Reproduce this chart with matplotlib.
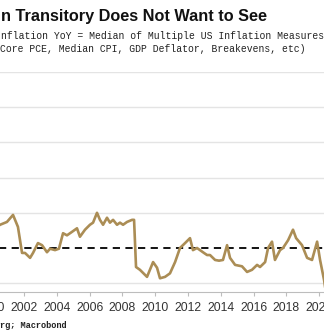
import numpy as np
import matplotlib
matplotlib.use('Agg')
import matplotlib.pyplot as plt

# Median of US inflation measures, YoY %
years = [2000.35, 2000.54, 2000.96, 2001.33, 2001.63, 2001.88, 2002.06, 2002.37, 2002.55,
         2002.85, 2003.10, 2003.40, 2003.59, 2003.89, 2004.13, 2004.38, 2004.62, 2004.93,
         2005.23, 2005.41, 2005.72, 2006.02, 2006.21, 2006.45, 2006.63, 2006.82, 2007.06,
         2007.24, 2007.43, 2007.67, 2007.85, 2008.04, 2008.28, 2008.59, 2008.71, 2008.83,
         2009.07, 2009.50, 2009.87, 2010.11, 2010.29, 2010.60, 2010.90, 2011.21, 2011.51,
         2011.82, 2012.12, 2012.30, 2012.55, 2012.73, 2012.91, 2013.16, 2013.34, 2013.65,
         2013.89, 2014.13, 2014.38, 2014.56, 2014.87, 2015.29, 2015.60, 2015.90, 2016.21,
         2016.39, 2016.70, 2016.88, 2017.12, 2017.30, 2017.61, 2017.79, 2018.10, 2018.40,
         2018.59, 2018.95, 2019.26, 2019.56, 2019.87, 2020.05, 2020.29, 2020.45]
values = [2.30, 2.33, 2.37, 2.47, 2.30, 1.93, 1.93, 1.86, 1.93,
          2.07, 2.04, 1.94, 1.99, 1.97, 1.99, 2.21, 2.18, 2.23,
          2.28, 2.16, 2.26, 2.33, 2.36, 2.50, 2.40, 2.33, 2.43,
          2.36, 2.40, 2.33, 2.36, 2.33, 2.37, 2.40, 2.40, 1.73,
          1.69, 1.59, 1.80, 1.72, 1.57, 1.59, 1.64, 1.80, 2.00,
          2.07, 2.14, 1.97, 2.00, 1.97, 1.94, 1.90, 1.90, 1.83,
          1.82, 1.83, 2.04, 1.86, 1.76, 1.74, 1.66, 1.69, 1.76,
          1.73, 1.80, 2.00, 2.09, 1.83, 1.97, 2.00, 2.11, 2.26,
          2.14, 2.04, 1.86, 1.83, 2.09, 1.83, 1.55, 1.30]
target = 2.0
xticks = list(range(2000, 2022, 2))
grid_levels = [1.5, 2.5, 3.0, 3.5, 4.0, 4.5]

W, H = 324, 336
fig = plt.figure(figsize=(W / 100, H / 100), dpi=100)

# axes deliberately run past the left/right edges (reference is a crop)
x_lo, x_hi = 1998.0, 2020.29
left_px = 24 + (x_lo - 2002) * 16.4
top_px, bot_px = 72, 292
ax = fig.add_axes([left_px / W, 1 - bot_px / H, (W - left_px) / W, (bot_px - top_px) / H])
ax.set_xlim(x_lo, x_hi)
ax.set_ylim(1.375, 4.5)

for g in grid_levels:
    ax.axhline(g, color='#e4e4e4', lw=1.0, zorder=0)
ax.axhline(target, color='black', lw=1.3, ls=(0, (4, 3)), zorder=1)
ax.plot(years, values, color='#ab8d55', lw=1.9, zorder=2, clip_on=True)

for s in ['top', 'left', 'right']:
    ax.spines[s].set_visible(False)
ax.spines['bottom'].set_color('#bdbdbd')
ax.set_yticks([])
ax.set_xticks(xticks)
ax.set_xticklabels([str(y) for y in xticks], fontsize=8.7, color='#333333',
                   family='Liberation Sans')
ax.tick_params(axis='x', length=3, color='#bdbdbd', pad=4)

fig.text(1 / W, 1 - 17 / H, 'n Transitory Does Not Want to See', fontsize=11.7,
         fontweight='bold', family='Liberation Sans', va='center', ha='left', color='#111111')
fig.text(1 / W, 1 - 36 / H, 'nflation YoY = Median of Multiple US Inflation Measures',
         fontsize=7.0, family='Liberation Mono', va='center', ha='left', color='#222222')
fig.text(0 / W, 1 - 49 / H, 'Core PCE, Median CPI, GDP Deflator, Breakevens, etc)',
         fontsize=7.0, family='Liberation Mono', va='center', ha='left', color='#222222')
fig.text(0 / W, 1 - 326 / H, 'rg; Macrobond', fontsize=6.2, fontweight='bold',
         family='Liberation Mono', va='center', ha='left', color='#222222')

fig.savefig('out.png', dpi=100)
